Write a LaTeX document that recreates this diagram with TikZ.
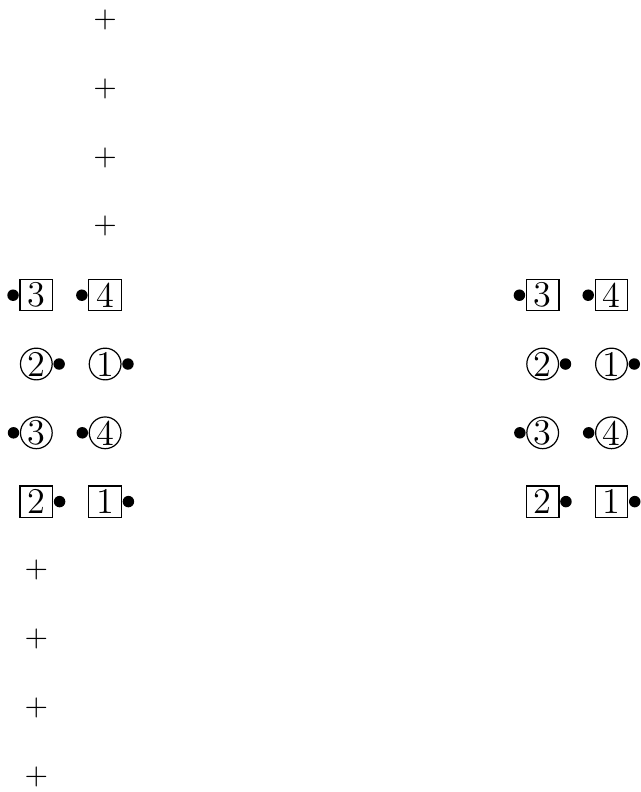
\documentclass[tikz,border=0pt]{standalone}
\begin{document}
\begin{tikzpicture}[x=0.8cm, y=-0.8cm,
    sq/.style={draw, inner sep=0pt, minimum width=10.8pt, minimum height=10.3pt, font=\large},
    rnd/.style={draw, circle, inner sep=0pt, minimum size=10.5pt, font=\large},
    pin/.style={circle, fill, inner sep=0pt, minimum size=3.8pt}]
      \useasboundingbox (-0.528,-0.291) rectangle (8.775,11.221);
      % crosses above and below
      \foreach \k in {0,1,2,3} {
        \node (up\k) at (1,\k) {$+$};
      }
      \foreach \k in {8,9,10,11} {
        \node (dn\k) at (0,\k) {$+$};
      }
      % the two groups of ports
      \foreach \g/\s in {l/0, r/7.36} {
        \node[sq]  (\g a3) at (\s,4)   {3};
        \node[sq]  (\g a4) at (\s+1,4) {4};
        \node[rnd] (\g c2) at (\s,5)   {2};
        \node[rnd] (\g c1) at (\s+1,5) {1};
        \node[rnd] (\g c3) at (\s,6)   {3};
        \node[rnd] (\g c4) at (\s+1,6) {4};
        \node[sq]  (\g a2) at (\s,7)   {2};
        \node[sq]  (\g a1) at (\s+1,7) {1};
        \node[pin, anchor=east] (\g pa3) at (\g a3.west) {};
        \node[pin, anchor=east] (\g pa4) at (\g a4.west) {};
        \node[pin, anchor=west] (\g pc2) at (\g c2.east) {};
        \node[pin, anchor=west] (\g pc1) at (\g c1.east) {};
        \node[pin, anchor=east] (\g pc3) at (\g c3.west) {};
        \node[pin, anchor=east] (\g pc4) at (\g c4.west) {};
        \node[pin, anchor=west] (\g pa2) at (\g a2.east) {};
        \node[pin, anchor=west] (\g pa1) at (\g a1.east) {};
      }
    \end{tikzpicture}
\end{document}
